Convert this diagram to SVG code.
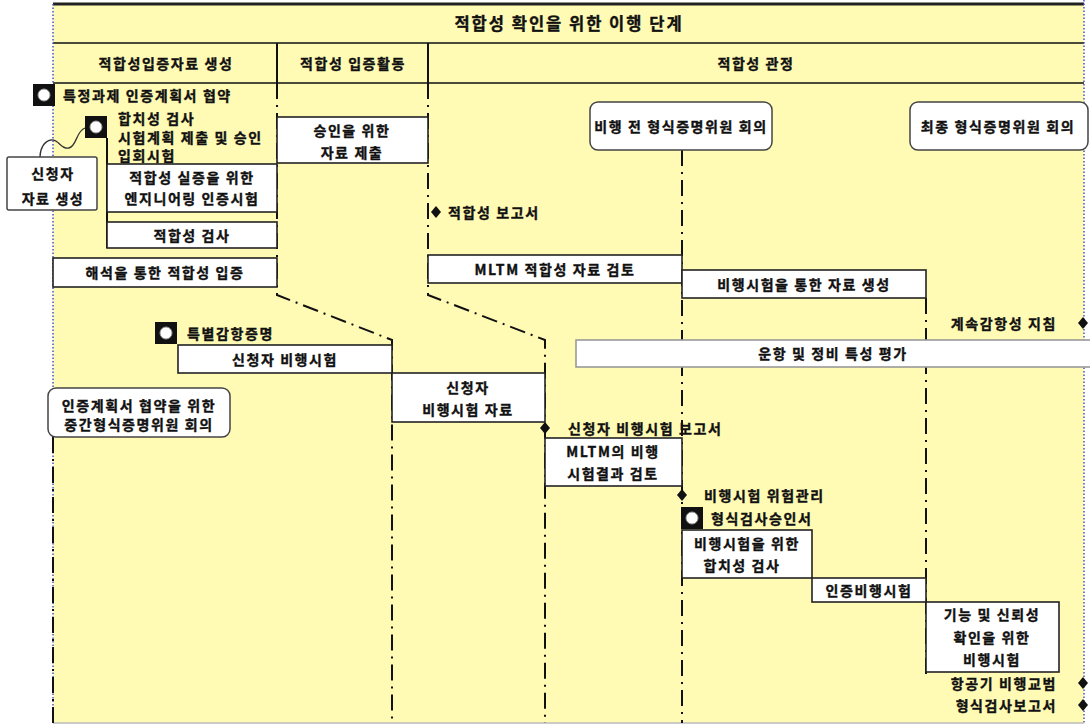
<svg xmlns="http://www.w3.org/2000/svg" xmlns:xlink="http://www.w3.org/1999/xlink" width="1090" height="725" viewBox="0 0 1090 725">
<style>
.t{font-family:"Noto Sans CJK KR","Noto Sans",sans-serif;font-weight:700;font-size:14px;letter-spacing:1.6px;fill:#111;stroke:#111;stroke-width:0.35;dominant-baseline:central}
.c{text-anchor:middle}
.e{text-anchor:end}
.h{font-size:14px}
.ttl{font-size:16.5px;letter-spacing:2px}
.box{fill:#fff;stroke:#222;stroke-width:1.6}
.rbox{fill:#fff;stroke:#444;stroke-width:1.5}
.dd{fill:none;stroke:#111;stroke-width:2;stroke-dasharray:16 6 2 6}
.sl{fill:none;stroke:#111;stroke-width:2}
.hl{fill:none;stroke:#4a4a3a;stroke-width:1.8}
.bd{fill:none;stroke:#4455c8;stroke-width:1.5;stroke-dasharray:1.5 2}
</style>
<defs>
<g id="icon"><rect x="0" y="0" width="22" height="22" fill="#111"/><circle cx="11" cy="11" r="6" fill="#fff" stroke="#999" stroke-width="1"/></g>
<path id="dia" d="M0,-6 L5,0 L0,6 L-5,0 Z" fill="#111"/>
</defs>
<rect x="0" y="0" width="1090" height="725" fill="#fff"/>
<g id="panel">
<rect x="53" y="4" width="1031" height="719" fill="#FFFBB5"/>
<line x1="53" y1="4" x2="1084" y2="4" stroke="#222" stroke-width="3"/>
<line class="hl" x1="53" y1="43" x2="1084" y2="43"/>
<line class="hl" x1="53" y1="83" x2="1084" y2="83"/>
<line class="sl" x1="277" y1="43" x2="277" y2="83"/>
<line class="sl" x1="428" y1="43" x2="428" y2="83"/>
<line class="bd" x1="53" y1="4" x2="53" y2="723"/>
<line class="bd" x1="1084" y1="0" x2="1084" y2="723"/>
<line x1="53" y1="723" x2="1084" y2="723" stroke="#bbb" stroke-width="1.5"/>
<text class="t ttl c" x="569" y="23">적합성 확인을 위한 이행 단계</text>
<text class="t h c" x="166" y="63">적합성입증자료 생성</text>
<text class="t h c" x="353" y="63">적합성 입증활동</text>
<text class="t h c" x="756" y="63">적합성 관정</text>
</g>
<g id="connectors">
<path class="dd" d="M277,83 L277,295 L392,340 L392,723"/>
<path class="dd" d="M428,83 L428,295 L545,340 L545,723"/>
<path class="dd" d="M682,150 L682,723"/>
<path class="dd" d="M926,298 L926,674"/>
<path class="dd" d="M53,437 L53,723"/>
<path class="sl" d="M107,138 L107,248"/>
<path fill="none" stroke="#333" stroke-width="1.3" d="M40,157 C40,149 44,141 51,140 C59,139 61,150 69,148 C77,146 76,131 85,128"/>
</g>
<g id="n1"><use href="#icon" x="33" y="84"/><text class="t" x="63" y="95">특정과제 인증계획서 협약</text></g>
<g id="n2"><use href="#icon" x="85" y="116"/><text class="t" x="118" y="118">합치성 검사</text><text class="t" x="118" y="137">시험계획 제출 및 승인</text><text class="t" x="118" y="155">입회시험</text></g>
<g id="n3"><rect class="rbox" x="7" y="157" width="90" height="53" rx="2"/><text class="t c" x="53" y="173">신청자</text><text class="t c" x="53" y="198">자료 생성</text></g>
<g id="n4"><rect class="box" x="107" y="164" width="170" height="48"/><text class="t c" x="192" y="177">적합성 실증을 위한</text><text class="t c" x="192" y="198">엔지니어링 인증시험</text></g>
<g id="n5"><rect class="box" x="107" y="222" width="170" height="26"/><text class="t c" x="192" y="235">적합성 검사</text></g>
<g id="n6"><rect class="box" x="53" y="258" width="224" height="29"/><text class="t c" x="165" y="272">해석을 통한 적합성 입증</text></g>
<g id="n7"><rect class="box" x="277" y="117" width="151" height="46"/><text class="t c" x="352" y="130">승인을 위한</text><text class="t c" x="352" y="152">자료 제출</text></g>
<g id="n8"><rect class="rbox" x="590" y="102" width="182" height="48" rx="8"/><text class="t c" x="681" y="126">비행 전 형식증명위원 회의</text></g>
<g id="n9"><rect class="rbox" x="910" y="102" width="178" height="48" rx="8"/><text class="t c" x="998" y="126">최종 형식증명위원 회의</text></g>
<g id="n10"><use href="#dia" x="436" y="212"/><text class="t" x="448" y="212">적합성 보고서</text></g>
<g id="n11"><rect class="box" x="428" y="255" width="254" height="28"/><text class="t c" x="555" y="269">MLTM  적합성 자료 검토</text></g>
<g id="n12"><rect class="box" x="682" y="270" width="244" height="28"/><text class="t c" x="804" y="284">비행시험을 통한 자료 생성</text></g>
<g id="n13"><text class="t e" x="1057" y="323">계속감항성 지침</text><use href="#dia" x="1083" y="323"/></g>
<g id="n14"><rect class="box" x="576" y="340" width="516" height="27" style="stroke:#999"/><text class="t c" x="833" y="353">운항 및 정비 특성 평가</text></g>
<g id="n15"><use href="#icon" x="155" y="322"/><text class="t" x="187" y="333">특별감항증명</text></g>
<g id="n16"><rect class="box" x="178" y="345" width="214" height="28"/><text class="t c" x="285" y="359">신청자 비행시험</text></g>
<g id="n17"><rect class="box" x="392" y="373" width="153" height="49"/><text class="t c" x="468" y="387">신청자</text><text class="t c" x="468" y="409">비행시험 자료</text></g>
<g id="n18"><rect class="rbox" x="48" y="388" width="182" height="49" rx="8"/><text class="t c" x="139" y="405">인증계획서 협약을 위한</text><text class="t c" x="139" y="424">중간형식증명위원 회의</text></g>
<g id="n19"><use href="#dia" x="545" y="428"/><text class="t" x="568" y="428">신청자 비행시험 보고서</text></g>
<g id="n20"><rect class="box" x="545" y="438" width="137" height="48"/><text class="t c" x="613" y="451">MLTM의 비행</text><text class="t c" x="613" y="473">시험결과 검토</text></g>
<g id="n21"><use href="#dia" x="682" y="495"/><text class="t" x="704" y="495">비행시험 위험관리</text></g>
<g id="n22"><use href="#icon" x="681" y="507"/><text class="t" x="711" y="518">형식검사승인서</text></g>
<g id="n23"><rect class="box" x="682" y="530" width="130" height="48"/><text class="t c" x="747" y="543">비행시험을 위한</text><text class="t c" x="742" y="565">합치성 검사</text></g>
<g id="n24"><rect class="box" x="812" y="578" width="114" height="24"/><text class="t c" x="869" y="590">인증비행시험</text></g>
<g id="n25"><rect class="box" x="926" y="602" width="133" height="70"/><text class="t c" x="992" y="614">기능 및 신뢰성</text><text class="t c" x="992" y="637">확인을 위한</text><text class="t c" x="992" y="659">비행시험</text></g>
<g id="n26"><text class="t e" x="1057" y="683">항공기 비행교범</text><use href="#dia" x="1083" y="683"/></g>
<g id="n27"><text class="t e" x="1057" y="705">형식검사보고서</text><use href="#dia" x="1083" y="705"/></g>
</svg>
